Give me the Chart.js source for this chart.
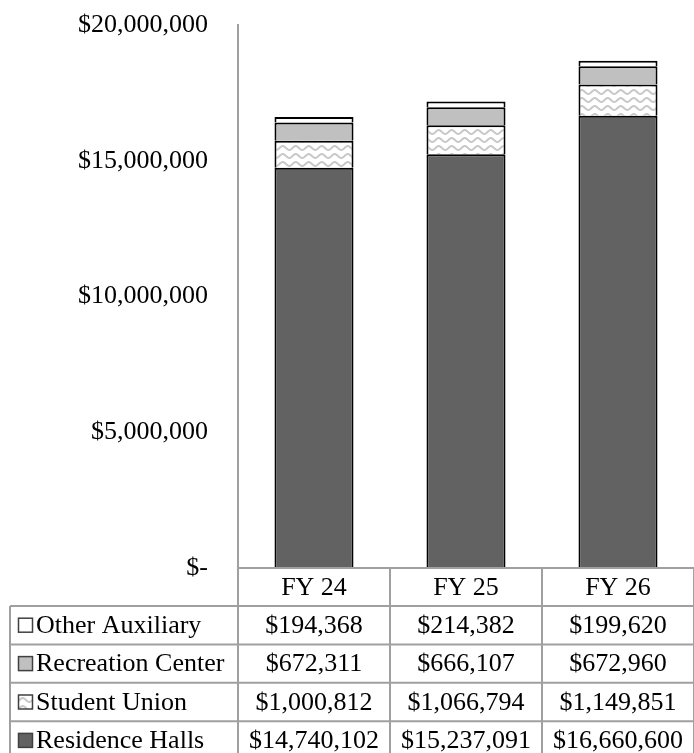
<!DOCTYPE html>
<html>
<head>
<meta charset="utf-8">
<style>
  html, body { margin: 0; padding: 0; background: #fff; }
  canvas { display: block; }
</style>
<script src="https://cdn.jsdelivr.net/npm/chart.js@4.4.1/dist/chart.umd.min.js"></script>
</head>
<body>
<canvas id="c" width="694" height="753"></canvas>
<script>
// Fiscal years on the category axis
const categories = ['FY 24', 'FY 25', 'FY 26'];

// Revenue by auxiliary unit (stacked bottom to top)
const residenceHalls   = [14740102, 15237091, 16660600];
const studentUnion     = [1000812, 1066794, 1149851];
const recreationCenter = [672311, 666107, 672960];
const otherAuxiliary   = [194368, 214382, 199620];

// Value axis ticks
const yTicks = [0, 5000000, 10000000, 15000000, 20000000];

const FONT = '"Liberation Serif", "Times New Roman", serif';
const FONT_SIZE = 26;
const GRID = '#a0a0a0';

// Light grey wave hatch used for the Student Union segments
function wavePattern() {
  const w = 13, h = 8;
  const t = document.createElement('canvas');
  t.width = w; t.height = h;
  const g = t.getContext('2d');
  g.fillStyle = '#ffffff';
  g.fillRect(0, 0, w, h);
  g.strokeStyle = '#c8c8c8';
  g.lineWidth = 2;
  g.beginPath();
  for (let x = -1; x <= w + 1; x += 0.5) {
    const y = h / 2 + 1.9 * Math.sin(x / w * 2 * Math.PI);
    if (x === -1) g.moveTo(x, y); else g.lineTo(x, y);
  }
  g.stroke();
  return g.createPattern(t, 'repeat');
}

const fmt = v => '$' + v.toLocaleString('en-US');

// Data table under the plot: header row with the fiscal years, one row per series
const dataTable = {
  id: 'dataTable',
  afterDraw(chart) {
    const { ctx, chartArea, scales } = chart;
    const x = scales.x;
    const n = categories.length;
    const colW = (chartArea.right - chartArea.left) / n;
    const top = chartArea.bottom;
    const headerH = 38;
    const rowH = 38.4;
    const tableLeft = 10;
    const bottom = chart.height + 10;
    const right = chartArea.right;

    ctx.save();
    ctx.strokeStyle = GRID;
    ctx.lineWidth = 2;

    // horizontal rules
    ctx.beginPath();
    ctx.moveTo(chartArea.left, top);
    ctx.lineTo(right, top);
    for (let r = 0; r < 4; r++) {
      const y = top + headerH + r * rowH;
      ctx.moveTo(tableLeft, y);
      ctx.lineTo(right, y);
    }
    // vertical rules
    for (let c = 0; c <= n; c++) {
      const xx = chartArea.left + c * colW;
      ctx.moveTo(xx, top);
      ctx.lineTo(xx, bottom);
    }
    ctx.moveTo(tableLeft, top + headerH);
    ctx.lineTo(tableLeft, bottom);
    ctx.stroke();

    ctx.fillStyle = '#000';
    ctx.font = FONT_SIZE + 'px ' + FONT;
    ctx.textBaseline = 'middle';

    // header labels
    ctx.textAlign = 'center';
    categories.forEach((lab, i) => {
      ctx.fillText(lab, x.getPixelForValue(i), top + headerH / 2 + 1);
    });

    // series rows, top row is the top of the stack
    const sets = chart.data.datasets.slice().reverse();
    sets.forEach((ds, r) => {
      const cy = top + headerH + r * rowH + rowH / 2;
      // legend key
      ctx.fillStyle = ds.backgroundColor;
      ctx.fillRect(18.5, cy - 7, 14, 14);
      ctx.strokeStyle = '#404040';
      ctx.lineWidth = 1.5;
      ctx.strokeRect(18.5, cy - 7, 14, 14);
      ctx.fillStyle = '#000';
      ctx.textAlign = 'left';
      ctx.fillText(ds.label, 36, cy + 1);
      ctx.textAlign = 'center';
      ds.data.forEach((v, i) => {
        ctx.fillText(fmt(v), x.getPixelForValue(i), cy + 1);
      });
    });
    ctx.restore();
  }
};

function draw() {
  const hatch = wavePattern();
  const barStyle = { borderColor: '#000000', borderWidth: 2, barPercentage: 0.52, categoryPercentage: 1 };

  new Chart(document.getElementById('c'), {
    type: 'bar',
    data: {
      labels: categories,
      datasets: [
        Object.assign({ label: 'Residence Halls', data: residenceHalls, backgroundColor: '#626262' }, barStyle),
        Object.assign({ label: 'Student Union', data: studentUnion, backgroundColor: hatch }, barStyle),
        Object.assign({ label: 'Recreation Center', data: recreationCenter, backgroundColor: '#c0c0c0' }, barStyle),
        Object.assign({ label: 'Other Auxiliary', data: otherAuxiliary, backgroundColor: '#ffffff' }, barStyle)
      ]
    },
    options: {
      responsive: false,
      animation: false,
      layout: { padding: { top: 25, left: 0, right: -8, bottom: 185 } },
      plugins: { legend: { display: false }, tooltip: { enabled: false } },
      scales: {
        x: { stacked: true, display: false },
        y: {
          stacked: true,
          min: 0,
          max: 20000000,
          afterBuildTicks: s => { s.ticks = yTicks.map(v => ({ value: v })); },
          afterFit: s => { s.width = 238; s.paddingTop = 0; s.paddingBottom = 0; },
          grid: { display: false, drawTicks: false },
          border: { display: true, color: GRID, width: 2 },
          ticks: {
            padding: 30,
            color: '#000',
            font: { family: FONT, size: FONT_SIZE },
            callback: v => (v === 0 ? '$-' : fmt(v))
          }
        }
      }
    },
    plugins: [dataTable]
  });
}

// make sure the serif face is ready before the canvas text is drawn
if (document.fonts && document.fonts.load) {
  document.fonts.load(FONT_SIZE + 'px "Liberation Serif"').then(draw, draw);
} else {
  draw();
}
</script>
</body>
</html>
